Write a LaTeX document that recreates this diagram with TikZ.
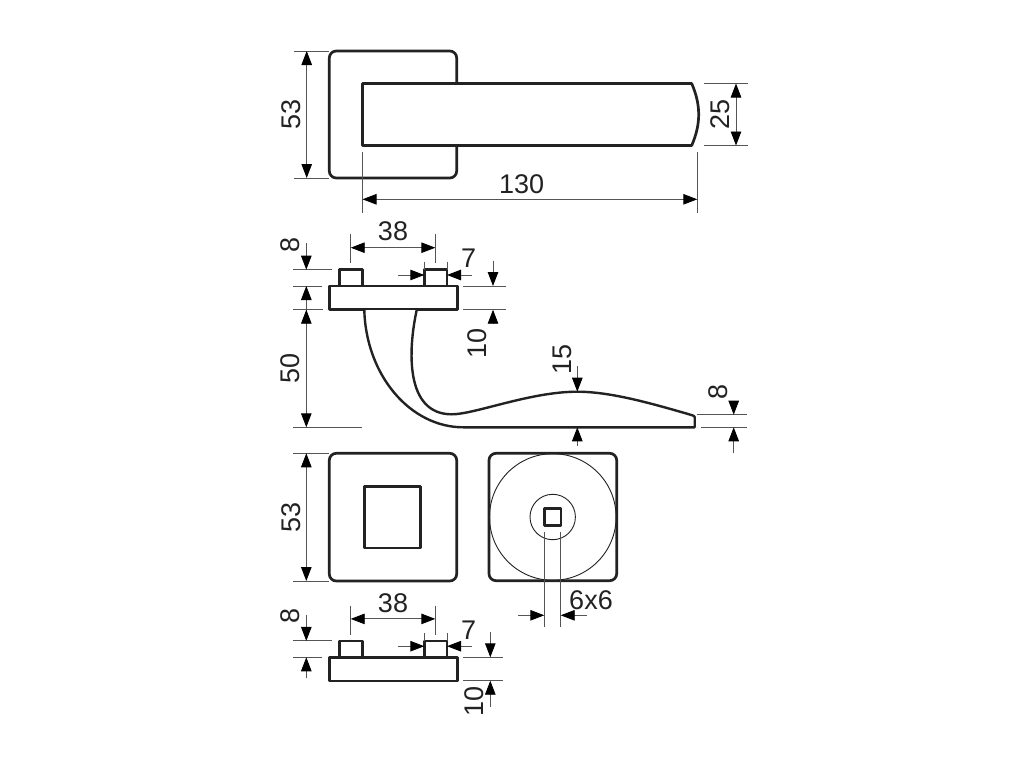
\documentclass[tikz,border=0pt]{standalone}
\usepackage{fontspec}
\setmainfont{Liberation Sans}
\usetikzlibrary{arrows.meta}
\definecolor{ink}{HTML}{222222}
\definecolor{thin}{HTML}{555555}
\tikzstyle{part}=[draw=ink,line width=2.7pt,fill=white,line join=round]
\tikzstyle{dim}=[draw=thin,line width=0.9pt]
\tikzstyle{dimarrow}=[draw=thin,line width=0.9pt,-{Triangle[length=14pt,width=10.5pt,color=black]}]
\tikzstyle{size}=[inner sep=0pt,text=ink,font=\fontsize{27}{27}\selectfont]
\tikzstyle{vsize}=[size,rotate=90]
\begin{document}
\begin{tikzpicture}[x=1pt,y=-1pt]
    \useasboundingbox (0,0) rectangle (1024,768);
    % top view
    \draw [part,rounded corners=7pt] (329.3,51) rectangle (456.7,178);
    \draw [part] (362.5,83.5) -- (691.7,83.5) .. controls (701,105) and (701,124) .. (691.7,145.5) -- (362.5,145.5) -- cycle;
    \path [dim] (294,51) -- (329,51) (294,178) -- (329,178);
    \draw [dimarrow] (306.7,114) -- (306.7,51);
    \draw [dimarrow] (306.7,114) -- (306.7,178);
    \node [vsize] (topheight) at (291,114) {53};
    \path [dim] (704,83.5) -- (748,83.5) (704,145.5) -- (748,145.5);
    \draw [dimarrow] (736,114) -- (736,83.5);
    \draw [dimarrow] (736,114) -- (736,145.5);
    \node [vsize] (leverwidth) at (720,114) {25};
    \path [dim] (362.5,152) -- (362.5,212.7) (697.3,152) -- (697.3,212.7);
    \draw [dimarrow] (520,199.3) -- (362.5,199.3);
    \draw [dimarrow] (520,199.3) -- (697.3,199.3);
    \node [size] (leverlength) at (521.7,184) {130};
    % side views
    \foreach \y in {0,371.2} {
      \begin{scope}[shift={(0,\y)}]
        \draw [part] (339.7,269.7) rectangle (362.3,290);
        \draw [part] (424.3,269.7) rectangle (447,290);
        \draw [part] (329.3,286) rectangle (457.3,309.7);
        \path [dim] (350.7,234.3) -- (350.7,263.3) (435.3,234.3) -- (435.3,263.3);
        \draw [dimarrow] (393,247.7) -- (350.7,247.7);
        \draw [dimarrow] (393,247.7) -- (435.3,247.7);
        \node [size] at (393,231.7) {38};
        \path [dim] (293.3,269.7) -- (331.7,269.7) (293.3,286) -- (321.7,286);
        \draw [dimarrow] (306.3,243.3) -- (306.3,269.7);
        \node [vsize] at (290,244.5) {8};
        \path [dim] (424.3,261.7) -- (424.3,269.7) (447,261.7) -- (447,269.7);
        \draw [dimarrow] (398.3,275) -- (424.3,275);
        \draw [dimarrow] (472.3,275) -- (447,275);
        \node [size] at (468.5,258.7) {7};
      \end{scope}
    }
    % lever profile
    \draw [part,line width=2.4pt] (364.3,310) .. controls (366,375) and (410,427.3) .. (463.3,427.3) -- (694.7,427.3) -- (694.7,417.3)
      .. controls (694.7,415.5) and (691,415) .. (688,414) .. controls (650,403) and (610,391.7) .. (577.3,391.7)
      .. controls (530,391.7) and (475,414.3) .. (451.7,414.3) .. controls (405,414.3) and (408,350) .. (416.7,310);
    \path [dim] (293.3,309.7) -- (323.3,309.7) (293.3,427.3) -- (361.7,427.3);
    \draw [dimarrow] (306.3,340) -- (306.3,286);
    \draw [dimarrow] (306.3,340) -- (306.3,309.7);
    \draw [dimarrow] (306.3,340) -- (306.3,427.3);
    \node [vsize] (shank) at (290,368.5) {50};
    \path [dim] (463.3,286) -- (506,286) (463.3,309.7) -- (506,309.7);
    \draw [dimarrow] (493,260.7) -- (493,286);
    \draw [dimarrow] (493,322.7) -- (493,309.7);
    \node [vsize] (basethick) at (476.7,343.5) {10};
    \draw [dimarrow] (577.3,366) -- (577.3,391.7);
    \draw [dimarrow] (577.3,446) -- (577.3,427.3);
    \node [vsize] (leverthick) at (562,359.5) {15};
    \path [dim] (696.7,414.7) -- (746.7,414.7) (701,427.3) -- (746.7,427.3);
    \draw [dimarrow] (733.7,401.7) -- (733.7,414.7);
    \draw [dimarrow] (733.7,453.3) -- (733.7,427.3);
    \node [vsize] (tipthick) at (718.3,391.7) {8};
    % rose front
    \draw [part,rounded corners=7pt] (329.3,453.3) rectangle (456.7,581);
    \draw [part] (364.7,486.7) rectangle (420.5,548);
    \path [dim] (293,453.3) -- (329,453.3) (293,581) -- (329,581);
    \draw [dimarrow] (306.3,517) -- (306.3,453.3);
    \draw [dimarrow] (306.3,517) -- (306.3,581);
    \node [vsize] (roseheight) at (291.5,517) {53};
    % rose back
    \draw [part,rounded corners=7pt] (489,453.3) rectangle (616.7,580.7);
    \draw [dim,draw=ink] (552.8,517) circle[radius=63.3pt];
    \draw [dim,draw=ink] (552.7,517) circle[radius=22.7pt];
    \draw [part] (544.3,508.7) rectangle (561,525.7);
    \path [dim] (544.3,531.7) -- (544.3,627.3) (560.7,531.7) -- (560.7,627.3);
    \draw [dimarrow] (518.3,615.3) -- (544.3,615.3);
    \draw [dimarrow] (586.7,615.3) -- (560.7,615.3);
    \node [size] (spindle) at (591,600) {6x6};
    % lower base
    \path [dim] (293.3,657.3) -- (321.7,657.3);
    \draw [dimarrow] (306.3,678.3) -- (306.3,657.3);
    \path [dim] (463.3,657.3) -- (503.3,657.3) (463.3,680.7) -- (503.3,680.7);
    \draw [dimarrow] (490.3,631.7) -- (490.3,657.3);
    \draw [dimarrow] (490.3,706.7) -- (490.3,680.7);
    \node [vsize] (lowerthick) at (474.2,701.5) {10};
\end{tikzpicture}
\end{document}
